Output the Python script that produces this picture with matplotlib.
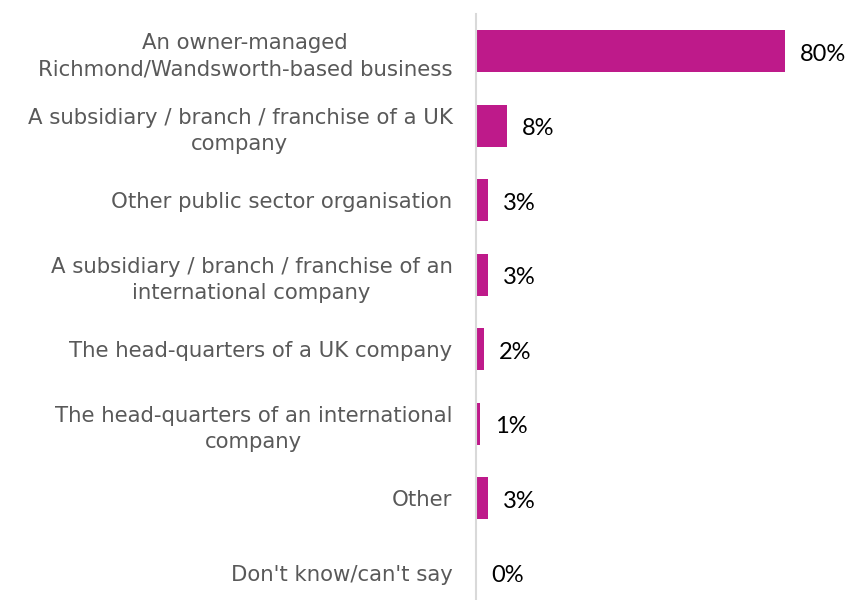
import matplotlib.pyplot as plt

categories = [
    "An owner-managed\nRichmond/Wandsworth-based business",
    "A subsidiary / branch / franchise of a UK\ncompany",
    "Other public sector organisation",
    "A subsidiary / branch / franchise of an\ninternational company",
    "The head-quarters of a UK company",
    "The head-quarters of an international\ncompany",
    "Other",
    "Don't know/can't say",
]
values = [80, 8, 3, 3, 2, 1, 3, 0]

bar_color = "#BE1A8A"

fig = plt.figure(figsize=(8.48, 6), dpi=100)
ax = fig.add_axes([476 / 848, -10 / 600, 372 / 848, 596 / 600])

pos = list(range(len(categories)))
ax.barh(pos, values, height=0.56, color=bar_color)
ax.set_ylim(len(categories) - 0.5, -0.5)
ax.set_xlim(0, 96.3)

for p, v in zip(pos, values):
    ax.text(v + 3.9, p + 0.04, f"{v}%", va="center", ha="left",
            fontsize=17, family="Lato", color="black")

ax.set_yticks(pos)
ax.set_yticklabels(categories, fontsize=15.3, color="#595959",
                   family="DejaVu Sans", linespacing=1.4)
for lab in ax.get_yticklabels():
    lab.set_multialignment("center")
ax.tick_params(axis="y", length=0, pad=17)
ax.set_xticks([])

for s in ["top", "right", "bottom"]:
    ax.spines[s].set_visible(False)
ax.spines["left"].set_color("#D9D9D9")
ax.spines["left"].set_linewidth(1.5)

fig.savefig("out.png", dpi=100)
